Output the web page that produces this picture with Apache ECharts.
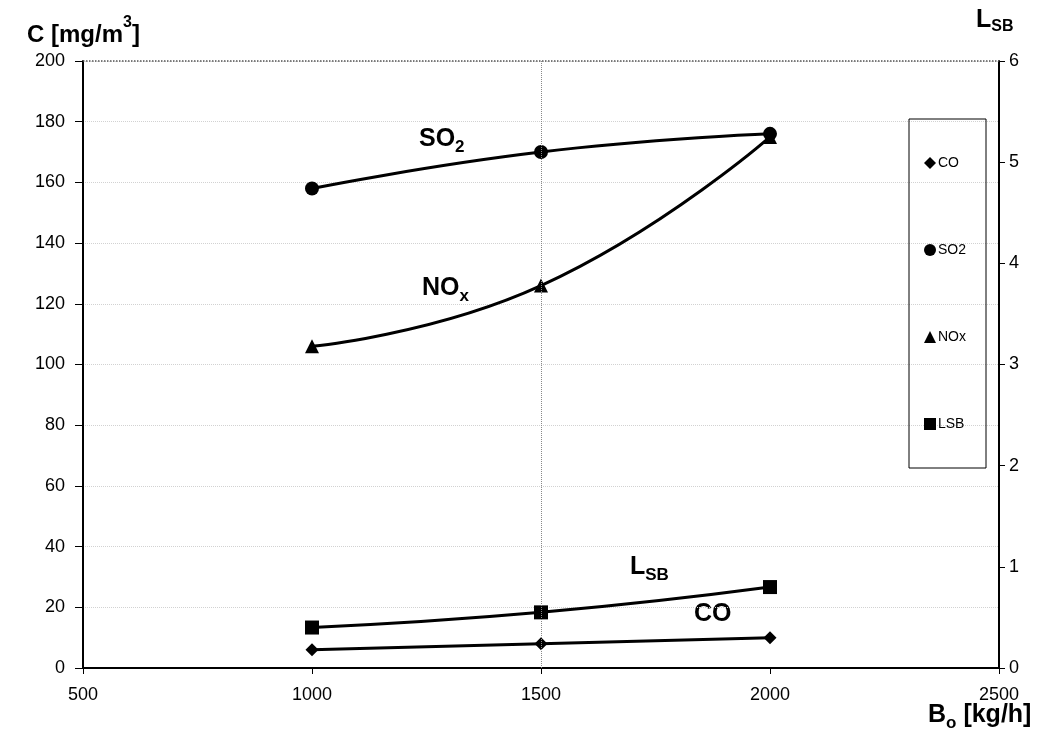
<!DOCTYPE html>
<html>
<head>
<meta charset="utf-8">
<script src="https://cdn.jsdelivr.net/npm/echarts@6/dist/echarts.min.js"></script>
<style>
  html, body { margin: 0; padding: 0; background: #fff; }
  #chart { width: 1054px; height: 732px; }
</style>
</head>
<body>
<div id="chart"></div>
<script>
// feed rate B_o [kg/h]
const feedRate = [1000, 1500, 2000]
// concentrations [mg/m3]
const coValues = [6, 8, 10]
const so2Values = [158, 170, 176]
const noxValues = [106, 126, 175]
// L_SB (right axis)
const lsbValues = [0.4, 0.55, 0.8]

const leftTicks = { min: 0, max: 200, interval: 20 }
const rightTicks = { min: 0, max: 6, interval: 1 }
const xTicks = { min: 500, max: 2500, interval: 500 }

const FONT = 'Liberation Sans, Arial, sans-serif'

const chart = echarts.init(document.getElementById('chart'))

function pairs(ys) {
  return feedRate.map((x, i) => [x, ys[i]])
}

function lineSeries(name, ys, symbol, size, yIndex) {
  return {
    name: name,
    type: 'line',
    yAxisIndex: yIndex,
    data: pairs(ys),
    smooth: 0.5,
    symbol: symbol,
    symbolSize: size,
    showAllSymbol: true,
    lineStyle: { color: '#000', width: 3 },
    itemStyle: { color: '#000' },
    z: 3
  }
}

// bold label with a lowered subscript
const lbl = {
  a: { fontFamily: FONT, fontWeight: 'bold', fontSize: 25, color: '#000', lineHeight: 25, verticalAlign: 'top' },
  s: { fontFamily: FONT, fontWeight: 'bold', fontSize: 17, color: '#000', lineHeight: 29, verticalAlign: 'bottom' }
}
const lblBig = {
  a: { fontFamily: FONT, fontWeight: 'bold', fontSize: 25, color: '#000', lineHeight: 25, verticalAlign: 'top' },
  s: { fontFamily: FONT, fontWeight: 'bold', fontSize: 16, color: '#000', lineHeight: 27, verticalAlign: 'bottom' }
}
const ttl = {
  a: { fontFamily: FONT, fontWeight: 'bold', fontSize: 24, color: '#000', lineHeight: 32, verticalAlign: 'bottom' },
  p: { fontFamily: FONT, fontWeight: 'bold', fontSize: 16, color: '#000', lineHeight: 16, verticalAlign: 'top' }
}

const tickLabel = { fontFamily: FONT, fontSize: 18, color: '#000', formatter: v => String(v) }

const option = {
  animation: false,
  backgroundColor: '#fff',
  grid: { left: 83, right: 55, top: 61, bottom: 64 },
  legend: {
    orient: 'vertical',
    left: 909,
    top: 119,
    padding: [37, 20, 37, 15],
    itemGap: 73,
    itemWidth: 12,
    itemHeight: 12,
    borderColor: '#000',
    borderWidth: 1,
    borderRadius: 0,
    textStyle: { fontFamily: FONT, fontSize: 14, color: '#000', padding: [0, 0, 0, -3] },
    data: [
      { name: 'CO', icon: 'diamond' },
      { name: 'SO2', icon: 'circle' },
      { name: 'NOx', icon: 'triangle' },
      { name: 'LSB', icon: 'rect' }
    ]
  },
  xAxis: {
    type: 'value',
    min: xTicks.min,
    max: xTicks.max,
    interval: xTicks.interval,
    axisLine: { show: true, onZero: false, lineStyle: { color: '#000', width: 2 } },
    axisTick: { show: true, inside: false, length: 6, lineStyle: { color: '#000' } },
    axisLabel: Object.assign({ margin: 18 }, tickLabel),
    splitLine: { show: false }
  },
  yAxis: [
    {
      type: 'value',
      min: leftTicks.min,
      max: leftTicks.max,
      interval: leftTicks.interval,
      position: 'left',
      axisLine: { show: true, lineStyle: { color: '#000', width: 2 } },
      axisTick: { show: true, inside: false, length: 8, lineStyle: { color: '#000' } },
      axisLabel: Object.assign({ margin: 18 }, tickLabel),
      splitLine: { show: true, lineStyle: { color: '#d2d2d2', type: 'dotted', width: 1 } }
    },
    {
      type: 'value',
      min: rightTicks.min,
      max: rightTicks.max,
      interval: rightTicks.interval,
      position: 'right',
      axisLine: { show: true, lineStyle: { color: '#000', width: 2 } },
      axisTick: { show: true, inside: false, length: 6, lineStyle: { color: '#000' } },
      axisLabel: Object.assign({ margin: 10 }, tickLabel),
      splitLine: { show: false }
    }
  ],
  series: [
    lineSeries('CO', coValues, 'diamond', 13, 0),
    lineSeries('SO2', so2Values, 'circle', 14, 0),
    Object.assign(lineSeries('NOx', noxValues, 'triangle', 14, 0), {
      markLine: {
        silent: true,
        symbol: 'none',
        label: { show: false },
        lineStyle: { color: '#888', type: 'dotted', width: 1 },
        data: [{ xAxis: 1500 }]
      }
    }),
    lineSeries('LSB', lsbValues, 'rect', 14, 1),
    {
      // darker dotted top border of the plot at 200
      name: 'top',
      type: 'line',
      data: [],
      markLine: {
        silent: true,
        symbol: 'none',
        label: { show: false },
        lineStyle: { color: '#555', type: 'dotted', width: 1.5 },
        data: [{ yAxis: leftTicks.max }]
      }
    }
  ],
  graphic: [
    { type: 'text', left: 27, top: 15, style: { text: '{a|C [mg/m}{p|3}{a|]}', rich: ttl } },
    { type: 'text', left: 976, top: 8, style: { text: '{a|L}{s|SB}', rich: lblBig } },
    { type: 'text', left: 419, top: 127, style: { text: '{a|SO}{s|2}', rich: lbl } },
    { type: 'text', left: 422, top: 276, style: { text: '{a|NO}{s|x}', rich: lbl } },
    { type: 'text', left: 630, top: 555, style: { text: '{a|L}{s|SB}', rich: lbl } },
    { type: 'text', left: 694, top: 602, style: { text: '{a|CO}', rich: lbl } },
    { type: 'text', left: 928, top: 703, style: { text: '{a|B}{s|o}{a| [kg/h]}', rich: lbl } }
  ]
}

chart.setOption(option)
</script>
</body>
</html>
